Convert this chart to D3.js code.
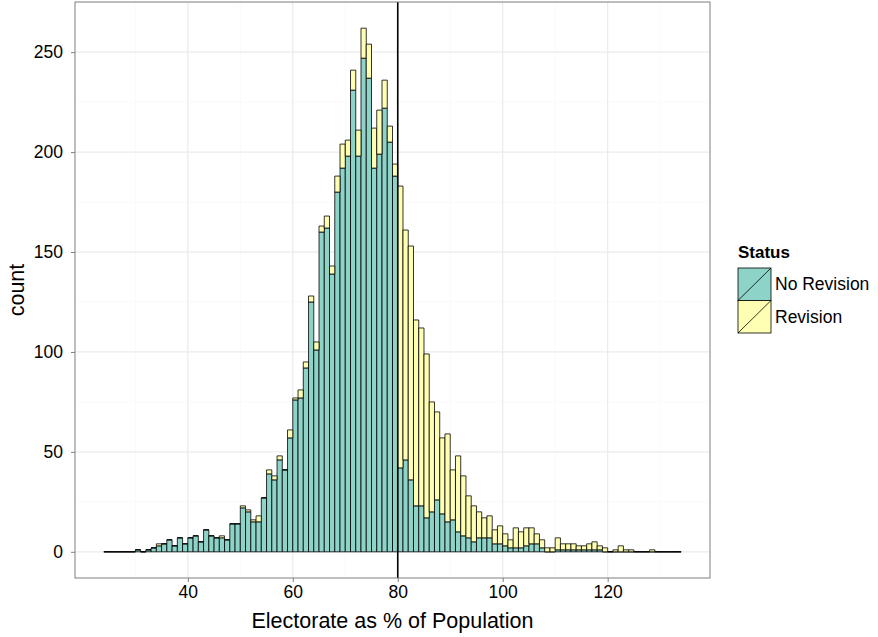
<!DOCTYPE html>
<html>
<head>
<meta charset="utf-8">
<script src="https://cdn.jsdelivr.net/npm/d3@7"></script>
<style>
  body { margin: 0; background: #fff; }
  text { font-family: "Liberation Sans", Arial, sans-serif; }
</style>
</head>
<body>
<div id="chart"></div>
<script>
// left edge of each 1-unit bin
const binStarts = [24, 25, 26, 27, 28, 29, 30, 31, 32, 33, 34, 35, 36, 37, 38, 39, 40, 41, 42, 43,
    44, 45, 46, 47, 48, 49, 50, 51, 52, 53, 54, 55, 56, 57, 58, 59, 60, 61, 62, 63,
    64, 65, 66, 67, 68, 69, 70, 71, 72, 73, 74, 75, 76, 77, 78, 79, 80, 81, 82, 83,
    84, 85, 86, 87, 88, 89, 90, 91, 92, 93, 94, 95, 96, 97, 98, 99, 100, 101, 102, 103,
    104, 105, 106, 107, 108, 109, 110, 111, 112, 113, 114, 115, 116, 117, 118, 119, 120, 121, 122, 123,
    124, 125, 126, 127, 128, 129, 130, 131, 132, 133];
const binWidth = 1;

const noRevision = [0, 0, 0, 0, 0, 0, 1, 0, 1, 2, 3, 4, 6, 3, 7, 4, 7, 8, 5, 11,
    8, 7, 7, 6, 14, 14, 22, 20, 15, 15, 27, 39, 36, 46, 41, 57, 76, 77, 92, 125,
    101, 160, 162, 139, 180, 192, 198, 231, 198, 247, 237, 192, 199, 222, 205, 188, 42, 46, 36, 23,
    23, 17, 20, 26, 19, 15, 16, 10, 8, 7, 5, 7, 7, 7, 4, 4, 3, 2, 2, 2,
    3, 4, 4, 2, 0, 0, 1, 1, 1, 1, 1, 1, 1, 1, 1, 0, 0, 0, 0, 0,
    0, 0, 0, 0, 0, 0, 0, 0, 0, 0];
const revision = [0, 0, 0, 0, 0, 0, 0, 0, 0, 0, 1, 0, 0, 0, 0, 0, 0, 0, 0, 0,
    0, 0, 1, 0, 0, 0, 1, 1, 1, 3, 0, 2, 2, 2, 0, 4, 1, 4, 3, 3,
    4, 3, 6, 4, 8, 12, 8, 10, 13, 15, 17, 20, 22, 14, 8, 6, 141, 115, 117, 93,
    89, 82, 55, 44, 38, 44, 25, 38, 30, 21, 18, 13, 10, 11, 7, 9, 6, 4, 10, 8,
    9, 8, 5, 4, 2, 2, 6, 3, 3, 3, 2, 2, 3, 4, 2, 2, 0, 1, 3, 1,
    1, 0, 0, 0, 1, 0, 0, 0, 0, 0];

const statusNames = ["No Revision", "Revision"];
const statusColors = ["#8DD3C7", "#FFFFB3"];
const xTicks = [40, 60, 80, 100, 120];
const yTicks = [0, 50, 100, 150, 200, 250];
const cutoff = 80;

const width = 878, height = 637;
const panel = { left: 75, top: 2, right: 710, bottom: 578 };

const svg = d3.select("#chart").append("svg")
    .attr("width", width)
    .attr("height", height);

const rows = binStarts.map((b, i) => ({ x0: b, x1: b + binWidth, "No Revision": noRevision[i], "Revision": revision[i] }));
const stacked = d3.stack().keys(statusNames)(rows);

const xMin = binStarts[0], xMax = binStarts[binStarts.length - 1] + binWidth;
const yMax = d3.max(rows, d => d["No Revision"] + d["Revision"]);
const xPad = (xMax - xMin) * 0.05, yPad = yMax * 0.05;

const x = d3.scaleLinear().domain([xMin - xPad, xMax + xPad]).range([panel.left, panel.right]);
const y = d3.scaleLinear().domain([-yPad, yMax + yPad]).range([panel.bottom, panel.top]);

// grid
const minorX = d3.range(30, 140, 20), minorY = d3.range(25, 300, 50);
const grid = svg.append("g");
grid.selectAll("line.mx").data(minorX).join("line")
    .attr("x1", d => x(d)).attr("x2", d => x(d))
    .attr("y1", panel.top).attr("y2", panel.bottom)
    .attr("stroke", "#FAFAFA").attr("stroke-width", 1);
grid.selectAll("line.my").data(minorY.filter(v => y(v) > panel.top)).join("line")
    .attr("x1", panel.left).attr("x2", panel.right)
    .attr("y1", d => y(d)).attr("y2", d => y(d))
    .attr("stroke", "#FAFAFA").attr("stroke-width", 1);
grid.selectAll("line.gx").data(xTicks).join("line")
    .attr("x1", d => x(d)).attr("x2", d => x(d))
    .attr("y1", panel.top).attr("y2", panel.bottom)
    .attr("stroke", "#EBEBEB").attr("stroke-width", 1.2);
grid.selectAll("line.gy").data(yTicks).join("line")
    .attr("x1", panel.left).attr("x2", panel.right)
    .attr("y1", d => y(d)).attr("y2", d => y(d))
    .attr("stroke", "#EBEBEB").attr("stroke-width", 1.2);

// bars (paths so zero-height bins still draw their outline)
svg.append("g").selectAll("g").data(stacked).join("g")
    .attr("fill", (d, i) => statusColors[i])
    .selectAll("path").data(d => d).join("path")
    .attr("d", d => {
        const x0 = x(d.data.x0), x1 = x(d.data.x1);
        const y0 = y(d[0]), y1 = y(d[1]);
        return `M${x0},${y0}H${x1}V${y1}H${x0}Z`;
    })
    .attr("stroke", "#000")
    .attr("stroke-width", 0.8);

// cutoff line
svg.append("line")
    .attr("x1", x(cutoff)).attr("x2", x(cutoff))
    .attr("y1", panel.top).attr("y2", panel.bottom)
    .attr("stroke", "#000").attr("stroke-width", 1.6);

// panel border
svg.append("rect")
    .attr("x", panel.left).attr("y", panel.top)
    .attr("width", panel.right - panel.left).attr("height", panel.bottom - panel.top)
    .attr("fill", "none").attr("stroke", "#7F7F7F").attr("stroke-width", 1);

// axes
const xAxis = svg.append("g").attr("transform", `translate(0,${panel.bottom})`)
    .call(d3.axisBottom(x).tickValues(xTicks).tickSize(4).tickPadding(4));
const yAxis = svg.append("g").attr("transform", `translate(${panel.left},0)`)
    .call(d3.axisLeft(y).tickValues(yTicks).tickSize(4).tickPadding(8));
[xAxis, yAxis].forEach(a => {
    a.select(".domain").remove();
    a.selectAll(".tick line").attr("stroke", "#7F7F7F");
    a.selectAll(".tick text").attr("fill", "#000").style("font-size", "17.5px")
        .style("font-family", "Liberation Sans, Arial, sans-serif");
});

svg.append("text")
    .attr("x", (panel.left + panel.right) / 2).attr("y", 628)
    .attr("text-anchor", "middle").style("font-size", "21.5px")
    .text("Electorate as % of Population");
svg.append("text")
    .attr("transform", `translate(24,${(panel.top + panel.bottom) / 2}) rotate(-90)`)
    .attr("text-anchor", "middle").style("font-size", "21.5px")
    .text("count");

// legend
const legend = svg.append("g").attr("transform", "translate(738,247)");
legend.append("text").attr("x", 0).attr("y", 11)
    .style("font-size", "17px").style("font-weight", "bold").text("Status");
statusNames.forEach((name, i) => {
    const g = legend.append("g").attr("transform", `translate(0,${21 + i * 32.5})`);
    g.append("rect").attr("width", 33).attr("height", 32.5)
        .attr("fill", statusColors[i]).attr("stroke", "#000").attr("stroke-width", 0.8);
    g.append("line").attr("x1", 0).attr("y1", 32.5).attr("x2", 33).attr("y2", 0)
        .attr("stroke", "#000").attr("stroke-width", 0.8);
    g.append("text").attr("x", 37).attr("y", 16.25).attr("dy", "0.35em")
        .style("font-size", "17.5px").text(name);
});
</script>
</body>
</html>
